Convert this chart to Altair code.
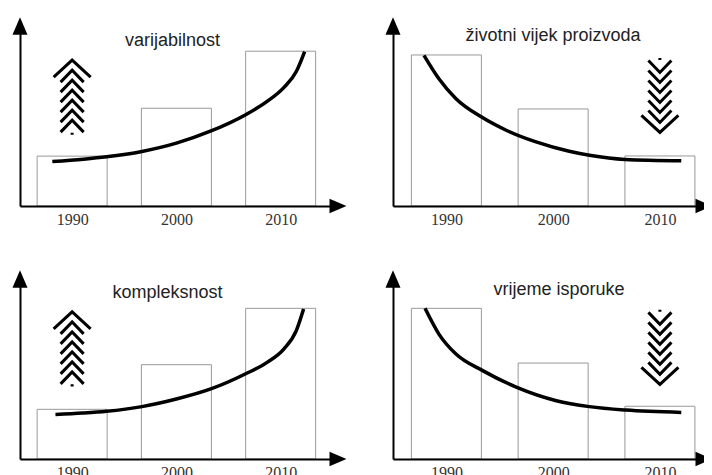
import altair as alt
import pandas as pd

YEARS = [1990, 2000, 2010]
TITLES = ["varijabilnost", "životni vijek proizvoda", "kompleksnost", "vrijeme isporuke"]
TRENDS = ["up", "down", "up", "down"]

BARS_1 = [27.7, 54.3, 86.0]
BARS_2 = [83.9, 53.9, 27.8]
BARS_3 = [27.6, 52.4, 83.7]
BARS_4 = [83.7, 53.3, 29.3]

CURVE_1_X = [1988.1, 1991.1, 1993.3, 1996.7, 2000.0, 2003.2, 2006.6, 2008.7, 2010.3, 2011.5, 2012.3]
CURVE_1_Y = [24.7, 26.0, 27.3, 30.3, 34.9, 41.4, 50.6, 58.1, 65.8, 74.7, 85.8]
CURVE_2_X = [1987.9, 1989.3, 1990.9, 1993.3, 1995.6, 1998.4, 2001.5, 2003.4, 2006.7, 2012.0]
CURVE_2_Y = [83.7, 70.7, 59.6, 49.4, 42.1, 35.6, 30.4, 28.2, 25.9, 25.2]
CURVE_3_X = [1988.4, 1991.0, 1993.3, 1996.7, 2000.0, 2003.3, 2006.6, 2008.7, 2010.3, 2011.5, 2012.2]
CURVE_3_Y = [24.7, 25.5, 26.5, 29.1, 33.3, 38.9, 47.2, 53.7, 61.1, 71.3, 83.3]
CURVE_4_X = [1988.0, 1989.3, 1990.9, 1993.4, 1996.6, 2000.3, 2003.4, 2006.8, 2012.0]
CURVE_4_Y = [83.7, 69.4, 58.3, 49.1, 39.8, 32.4, 29.1, 27.2, 25.9]

MARKER_X = [1990, 2010, 1990, 2010]
MARKER_Y = [60.2, 61.7, 60.9, 62.3]

Y_DOMAIN = [0, 100]
X_DOMAIN_LEFT = [1985, 2015.5]
X_DOMAIN_RIGHT = [1985, 2014.13]


def chevron_path(flip):
    s = 37.5

    def p(x, y):
        yy = (y - 37.5) / s
        if flip:
            yy = -yy
        return f"{x / s:.3f},{yy:.3f}"

    segs = [f"M{p(-18.5, 17)}L{p(0, 0)}L{p(18.5, 17)}"]
    for a in [10, 20, 30, 40, 50, 60]:
        segs.append(f"M{p(-11.5, a + 12)}L{p(0, a)}L{p(11.5, a + 12)}")
    segs.append(f"M{p(0, 72.5)}L{p(0, 74.5)}")
    return "".join(segs)


UP_TRI = "M0,-1L-0.85,1L0.85,1Z"
RIGHT_TRI = "M1,0L-1,-0.85L-1,0.85Z"
RIGHT_TRI_CUT = "M0,-0.425L-1,-0.85L-1,0.85L0,0.425Z"   # arrow cut by the page edge

x_axis = alt.Axis(values=YEARS, title=None, ticks=False, grid=False, domainColor="black",
                  domainWidth=2, labelFont="Liberation Serif", labelFontSize=16,
                  labelColor="#333", labelPadding=13, labelBaseline="middle", format="d",
                  zindex=1)
y_axis = alt.Axis(title=None, ticks=False, labels=False, grid=False, domainColor="black",
                  domainWidth=2, zindex=1)


def panel(i, bars, cxs, cys, xdom, width, arrow, dx, dy):
    xs = alt.Scale(domain=xdom, nice=False, zero=False, padding=0)
    ys = alt.Scale(domain=Y_DOMAIN, nice=False, zero=False, padding=0)

    def X(f):
        return alt.X(f, type="quantitative", scale=xs, axis=x_axis)

    def Y(f):
        return alt.Y(f, type="quantitative", scale=ys, axis=y_axis)

    bar_df = pd.DataFrame({"year": YEARS, "value": bars})
    curve_df = pd.DataFrame({"year": cxs, "value": cys})
    mark_df = pd.DataFrame({"year": [MARKER_X[i]], "value": [MARKER_Y[i]]})
    ends = pd.DataFrame({"x0": [xdom[0]], "x1": [xdom[1]], "y0": [Y_DOMAIN[0]], "y1": [Y_DOMAIN[1]]})

    bar_layer = alt.Chart(bar_df).mark_bar(size=70, fill="white", stroke="#999",
                                           strokeWidth=1).encode(x=X("year"), y=Y("value"))
    curve_layer = alt.Chart(curve_df).mark_line(color="black", strokeWidth=3.5,
                                                interpolate="monotone").encode(
        x=X("year"), y=Y("value"), order="year:Q")
    chev = alt.Chart(mark_df).mark_point(shape=chevron_path(TRENDS[i] == "down"), filled=False,
                                         color="black", strokeWidth=3, size=5625,
                                         opacity=1).encode(x=X("year"), y=Y("value"))
    ya = alt.Chart(ends).mark_point(shape=UP_TRI, filled=True, color="black", size=313,
                                    opacity=1).encode(x=X("x0"), y=Y("y1"))
    xa = alt.Chart(ends).mark_point(shape=arrow, filled=True, color="black", size=289,
                                    opacity=1).encode(x=X("x1"), y=Y("y0"))
    return alt.layer(bar_layer, curve_layer, chev, ya, xa).properties(
        width=width, height=180,
        title=alt.TitleParams(TITLES[i], fontSize=18, font="Liberation Sans",
                              fontWeight="normal", color="#222", anchor="middle",
                              frame="group", baseline="middle", offset=-23, dx=dx, dy=dy))


p1 = panel(0, BARS_1, CURVE_1_X, CURVE_1_Y, X_DOMAIN_LEFT, 318, RIGHT_TRI, -6.5, 19)
p2 = panel(1, BARS_2, CURVE_2_X, CURVE_2_Y, X_DOMAIN_RIGHT, 311, RIGHT_TRI_CUT, 4.5, 14)
p3 = panel(2, BARS_3, CURVE_3_X, CURVE_3_Y, X_DOMAIN_LEFT, 318, RIGHT_TRI, -11.5, 18)
p4 = panel(3, BARS_4, CURVE_4_X, CURVE_4_Y, X_DOMAIN_RIGHT, 311, RIGHT_TRI_CUT, 10.5, 15)

chart = alt.concat(p1, p2, p3, p4, columns=2, spacing={"row": 73, "column": 55},
                   bounds="flush").properties(
    padding={"left": 4, "top": 9, "right": 0, "bottom": 0},
    background="white"
).configure_view(stroke=None)

chart.save("out.html", embed_options={"renderer": "svg", "actions": False})
